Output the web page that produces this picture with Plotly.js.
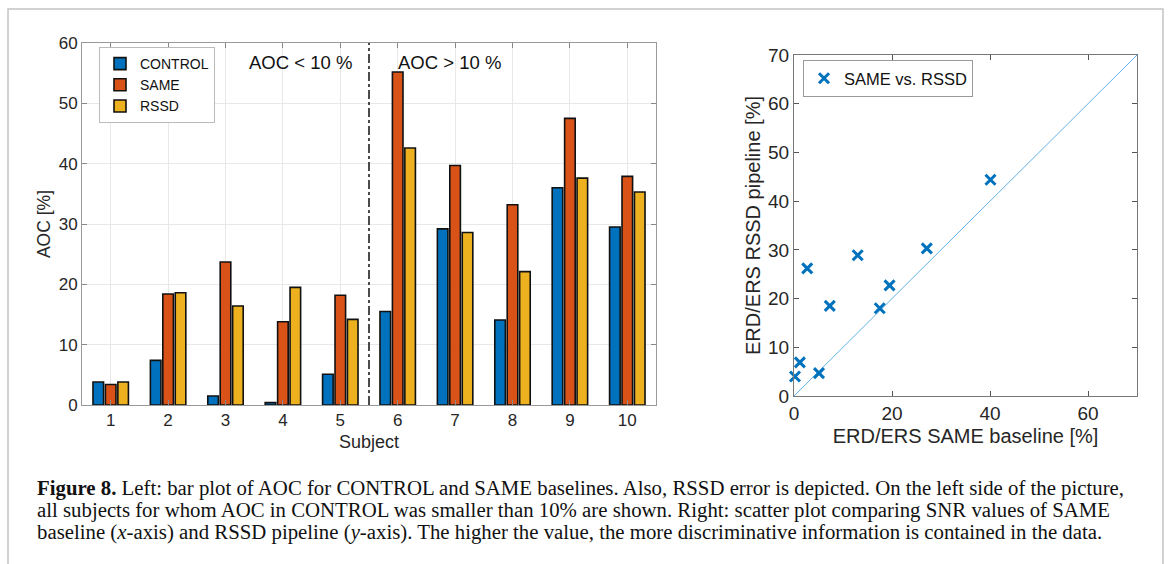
<!DOCTYPE html>
<html>
<head>
<meta charset="utf-8">
<script src="https://cdn.plot.ly/plotly-3.0.1.min.js"></script>
<style>html,body{margin:0;padding:0;background:#fff;}#chart{width:1168px;height:564px;}</style>
</head>
<body>
<div id="chart"></div>
<script>
// ---- data ----
const subjects = [1, 2, 3, 4, 5, 6, 7, 8, 9, 10];
const controlAOC = [3.8, 7.4, 1.5, 0.4, 5.1, 15.5, 29.2, 14.1, 36.0, 29.5];
const sameAOC    = [3.4, 18.4, 23.7, 13.8, 18.2, 55.2, 39.7, 33.2, 47.5, 37.9];
const rssdAOC    = [3.8, 18.6, 16.4, 19.5, 14.2, 42.6, 28.6, 22.1, 37.6, 35.3];
const splitAt = 5.5;

const sameSNR = [0.2, 1.2, 5.1, 2.7, 7.3, 13.0, 17.5, 19.5, 27.1, 40.1];
const rssdSNR = [4.0, 6.9, 4.7, 26.2, 18.5, 28.9, 18.0, 22.7, 30.3, 44.4];
const diag = [0, 70];

const captionLines = [
  "<b>Figure 8.</b> Left: bar plot of AOC for CONTROL and SAME baselines. Also, RSSD error is depicted. On the left side of the picture,",
  "all subjects for whom AOC in CONTROL was smaller than 10% are shown. Right: scatter plot comparing SNR values of SAME",
  "baseline (<i>x</i>-axis) and RSSD pipeline (<i>y</i>-axis). The higher the value, the more discriminative information is contained in the data."
];

const W = 1168, H = 564;
const px = v => v / W;
const py = v => 1 - v / H;
const txt = '#262626';
const sans = 'Liberation Sans, Arial, sans-serif';

const barLine = {color: '#111', width: 1.6};
const traces = [
  {type: 'bar', name: 'CONTROL', x: subjects, y: controlAOC, marker: {color: '#0072BD', line: barLine}, xaxis: 'x', yaxis: 'y', legend: 'legend'},
  {type: 'bar', name: 'SAME', x: subjects, y: sameAOC, marker: {color: '#D95319', line: barLine}, xaxis: 'x', yaxis: 'y', legend: 'legend'},
  {type: 'bar', name: 'RSSD', x: subjects, y: rssdAOC, marker: {color: '#EDB120', line: barLine}, xaxis: 'x', yaxis: 'y', legend: 'legend'},
  {type: 'scatter', mode: 'lines', x: diag, y: diag, line: {color: '#63B0E6', width: 1}, xaxis: 'x2', yaxis: 'y2', showlegend: false, hoverinfo: 'skip'},
  {type: 'scatter', mode: 'markers', name: 'SAME vs. RSSD', x: sameSNR, y: rssdSNR, xaxis: 'x2', yaxis: 'y2', legend: 'legend2', cliponaxis: false,
   marker: {symbol: 'x-thin-open', size: 10, color: '#0072BD', line: {color: '#0072BD', width: 3}}}
];

const annotations = [
  {xref: 'x', yref: 'y', x: 4.3, y: 56.7, text: 'AOC &lt; 10 %', showarrow: false, font: {family: sans, size: 18.5, color: '#111'}},
  {xref: 'x', yref: 'y', x: 6.9, y: 56.7, text: 'AOC &gt; 10 %', showarrow: false, font: {family: sans, size: 18.5, color: '#111'}}
];
captionLines.forEach((t, i) => {
  annotations.push({xref: 'paper', yref: 'paper', x: px(35), y: py(488 + i * 21.8), xanchor: 'left', yanchor: 'middle',
    text: t, showarrow: false, align: 'left', font: {family: 'Liberation Serif, Times New Roman, serif', size: 20.8, color: '#111'}});
});

const layout = {
  width: W, height: H,
  margin: {l: 0, r: 0, t: 0, b: 0},
  paper_bgcolor: '#fff', plot_bgcolor: '#fff',
  barmode: 'group', bargap: 0.35, bargroupgap: 0.15,
  font: {family: sans, color: txt},
  xaxis: {
    domain: [px(82), px(656)], range: [0.5, 10.5], tickvals: subjects,
    ticks: 'inside', ticklen: 5, tickcolor: '#888', showline: true, linecolor: '#999', linewidth: 1, mirror: 'ticks',
    showgrid: true, gridcolor: '#e8e8e8', zeroline: false, tickfont: {size: 17, color: txt},
    title: {text: 'Subject', font: {size: 18, color: txt}, standoff: 5}, anchor: 'y'
  },
  yaxis: {
    domain: [py(405), py(43)], range: [0, 60], dtick: 10,
    ticks: 'inside', ticklen: 5, tickcolor: '#888', showline: true, linecolor: '#999', linewidth: 1, mirror: 'ticks',
    showgrid: true, gridcolor: '#e8e8e8', zeroline: false, tickfont: {size: 17, color: txt},
    title: {text: 'AOC [%]', font: {size: 17.5, color: txt}, standoff: 3}, anchor: 'x'
  },
  xaxis2: {
    domain: [px(794), px(1137)], range: [0, 70], tickvals: [0, 20, 40, 60],
    ticks: 'inside', ticklen: 5, tickcolor: '#555', showline: true, linecolor: '#777', linewidth: 1, mirror: 'ticks',
    showgrid: false, zeroline: false, tickfont: {size: 19, color: txt},
    title: {text: 'ERD/ERS SAME baseline [%]', font: {size: 20, color: txt}, standoff: 6}, anchor: 'y2'
  },
  yaxis2: {
    domain: [py(396), py(55)], range: [0, 70], dtick: 10,
    ticks: 'inside', ticklen: 5, tickcolor: '#555', showline: true, linecolor: '#777', linewidth: 1, mirror: 'ticks',
    showgrid: false, zeroline: false, tickfont: {size: 19, color: txt},
    title: {text: 'ERD/ERS RSSD pipeline [%]', font: {size: 20, color: txt}, standoff: 2}, anchor: 'x2'
  },
  legend: {
    x: px(99), y: py(47), xanchor: 'left', yanchor: 'top', bgcolor: '#fff', bordercolor: '#bbb', borderwidth: 1,
    font: {size: 14, color: '#111'}, tracegroupgap: 0, itemwidth: 30, traceorder: 'normal'
  },
  legend2: {
    x: px(803), y: py(60), xanchor: 'left', yanchor: 'top', bgcolor: '#fff', bordercolor: '#999', borderwidth: 1,
    font: {size: 16.5, color: '#111'}, itemwidth: 30
  },
  shapes: [
    {type: 'line', xref: 'x', yref: 'y', x0: splitAt, x1: splitAt, y0: 0, y1: 60, line: {color: '#111', width: 1.5, dash: 'dashdot'}},
    {type: 'rect', xref: 'paper', yref: 'paper', x0: px(8), x1: px(1163), y0: -0.05, y1: py(9), line: {color: '#c4c4c4', width: 1.5}, layer: 'below'}
  ],
  annotations: annotations
};

Plotly.newPlot('chart', traces, layout, {displayModeBar: false, staticPlot: true});
</script>
</body>
</html>
